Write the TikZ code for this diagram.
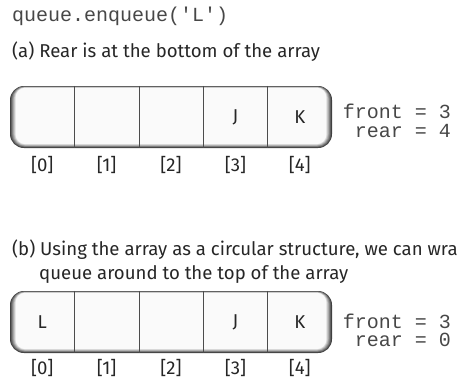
\documentclass[tikz,border=0pt]{standalone}
\usepackage{fontspec}
\setmainfont{Fira Sans}
\setmonofont{Liberation Mono}
\usetikzlibrary{positioning}

% shaded frame with rounded corners, between two named corners
\newcommand\qframe[2]{%
  \foreach \k in {0,...,7} {
    \pgfmathtruncatemacro\g{76-10.5*\k}
    \pgfmathsetmacro\r{14-0.6*\k}
    \fill[black!\g, rounded corners=\r pt]
      ([shift={(0.8*\k,0.25*\k)}]#1) rectangle ([shift={(-0.8*\k,-0.55*\k)}]#2);
  }}

\tikzset{
  code/.style={font=\ttfamily\fontsize{20}{24}\selectfont, text=black!72, inner sep=0pt},
  caption/.style={font=\fontsize{18.6}{22}\selectfont, text=black!85, inner sep=0pt, anchor=base west},
  cell/.style={rectangle, minimum width=64.4pt, minimum height=62pt, inner sep=0pt, font=\fontsize{18.6}{22}\selectfont, text=black!85},
  idx/.style={font=\fontsize{18.6}{22}\selectfont, text=black!85, inner sep=0pt},
  divider/.style={draw=black!70, line width=0.8pt}
}

\begin{document}
\begin{tikzpicture}[x=1pt, y=-1pt]
  \useasboundingbox (0,0) rectangle (457,384);
  \clip (0,0) rectangle (457,384);

  \node[code, anchor=base west] (call) at (12,21) {queue.enqueue('L')};

  % (a) rear at the bottom
  \node[caption] (capa) at (12,57) {(a) Rear is at the bottom of the array};
  \coordinate (aNW) at (10,86);
  \coordinate (aSE) at (332,148);
  \qframe{aNW}{aSE}
  \foreach \i/\v in {0/,1/,2/,3/J,4/K} {
    \node[cell] (a\i) at ({42.2+64.4*\i},117) {\v};
    \node[idx, below=8pt of a\i] (ia\i) {[\i]};
  }
  \foreach \i in {0,...,3} \draw[divider] (a\i.north east) -- (a\i.south east);
  \node[code, anchor=base east] (fronta) at (451,118.5) {front = 3};
  \node[code, anchor=base east] (reara) at (451,137) {rear = 4};

  % (b) wrapped round to the top
  \node[caption] (capb) at (12,255.5) {(b) Using the array as a circular structure, we can wrap the};
  \node[caption] (capb2) at (39,279.5) {queue around to the top of the array};
  \coordinate (bNW) at (10,291);
  \coordinate (bSE) at (332,353);
  \qframe{bNW}{bSE}
  \foreach \i/\v in {0/L,1/,2/,3/J,4/K} {
    \node[cell] (b\i) at ({42.2+64.4*\i},322) {\v};
    \node[idx, below=6pt of b\i] (ib\i) {[\i]};
  }
  \foreach \i in {0,...,3} \draw[divider] (b\i.north east) -- (b\i.south east);
  \node[code, anchor=base east] (frontb) at (451,328) {front = 3};
  \node[code, anchor=base east] (rearb) at (451,346.5) {rear = 0};
\end{tikzpicture}
\end{document}
